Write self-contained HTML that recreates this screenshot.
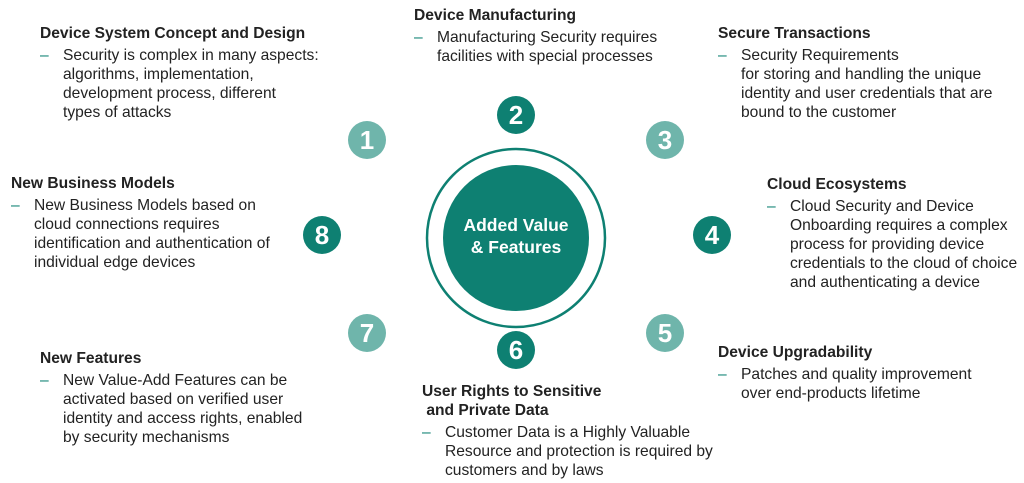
<!DOCTYPE html>
<html><head><meta charset="utf-8"><style>
body{margin:0;width:1024px;height:483px;background:#fff;position:relative;overflow:hidden;font-family:"Liberation Sans",Arial,sans-serif;color:#222;}
.b{position:absolute;font-size:15.6px;line-height:19px;}
.h{font-weight:bold;margin-bottom:3px;white-space:nowrap;}
.l{position:relative;padding-left:23px;white-space:nowrap;}
.l::before{content:"–";position:absolute;left:0;top:0;color:#0e8072;}
.c{position:absolute;width:38px;height:38px;border-radius:50%;color:#fff;font-weight:bold;font-size:26px;line-height:38px;text-align:center;}
.d{background:#0e8072}.g{background:#6fb5ab}
</style></head><body>
<svg width="1024" height="483" style="position:absolute;left:0;top:0">
<circle cx="516" cy="238" r="89" fill="none" stroke="#0e8072" stroke-width="2.5"/>
<circle cx="516" cy="238" r="73" fill="#0e8072"/>
<text x="516" y="231" fill="#fff" font-family="Liberation Sans,Arial,sans-serif" font-weight="bold" font-size="17.5" text-anchor="middle">Added Value</text>
<text x="516" y="253" fill="#fff" font-family="Liberation Sans,Arial,sans-serif" font-weight="bold" font-size="17.5" text-anchor="middle">&amp; Features</text>
</svg>
<div class="c g" style="left:348px;top:121px">1</div>
<div class="c d" style="left:497px;top:96px">2</div>
<div class="c g" style="left:646px;top:121px">3</div>
<div class="c d" style="left:693px;top:216px">4</div>
<div class="c g" style="left:646px;top:314px">5</div>
<div class="c d" style="left:497px;top:331px">6</div>
<div class="c g" style="left:348px;top:314px">7</div>
<div class="c d" style="left:303px;top:216px">8</div>

<div class="b" style="left:40px;top:24px"><div class="h">Device System Concept and Design</div><div class="l">Security is complex in many aspects:<br>algorithms, implementation,<br>development process, different<br>types of attacks</div></div>
<div class="b" style="left:414px;top:6px"><div class="h">Device Manufacturing</div><div class="l">Manufacturing Security requires<br>facilities with special processes</div></div>
<div class="b" style="left:718px;top:24px"><div class="h">Secure Transactions</div><div class="l">Security Requirements<br>for storing and handling the unique<br>identity and user credentials that are<br>bound to the customer</div></div>
<div class="b" style="left:11px;top:174px"><div class="h">New Business Models</div><div class="l">New Business Models based on<br>cloud connections requires<br>identification and authentication of<br>individual edge devices</div></div>
<div class="b" style="left:767px;top:175px"><div class="h">Cloud Ecosystems</div><div class="l">Cloud Security and Device<br>Onboarding requires a complex<br>process for providing device<br>credentials to the cloud of choice<br>and authenticating a device</div></div>
<div class="b" style="left:718px;top:343px"><div class="h">Device Upgradability</div><div class="l">Patches and quality improvement<br>over end-products lifetime</div></div>
<div class="b" style="left:40px;top:349px"><div class="h">New Features</div><div class="l">New Value-Add Features can be<br>activated based on verified user<br>identity and access rights, enabled<br>by security mechanisms</div></div>
<div class="b" style="left:422px;top:382px"><div class="h" style="margin-bottom:0">User Rights to Sensitive</div><div class="h">&nbsp;and Private Data</div><div class="l">Customer Data is a Highly Valuable<br>Resource and protection is required by<br>customers and by laws</div></div>
</body></html>
